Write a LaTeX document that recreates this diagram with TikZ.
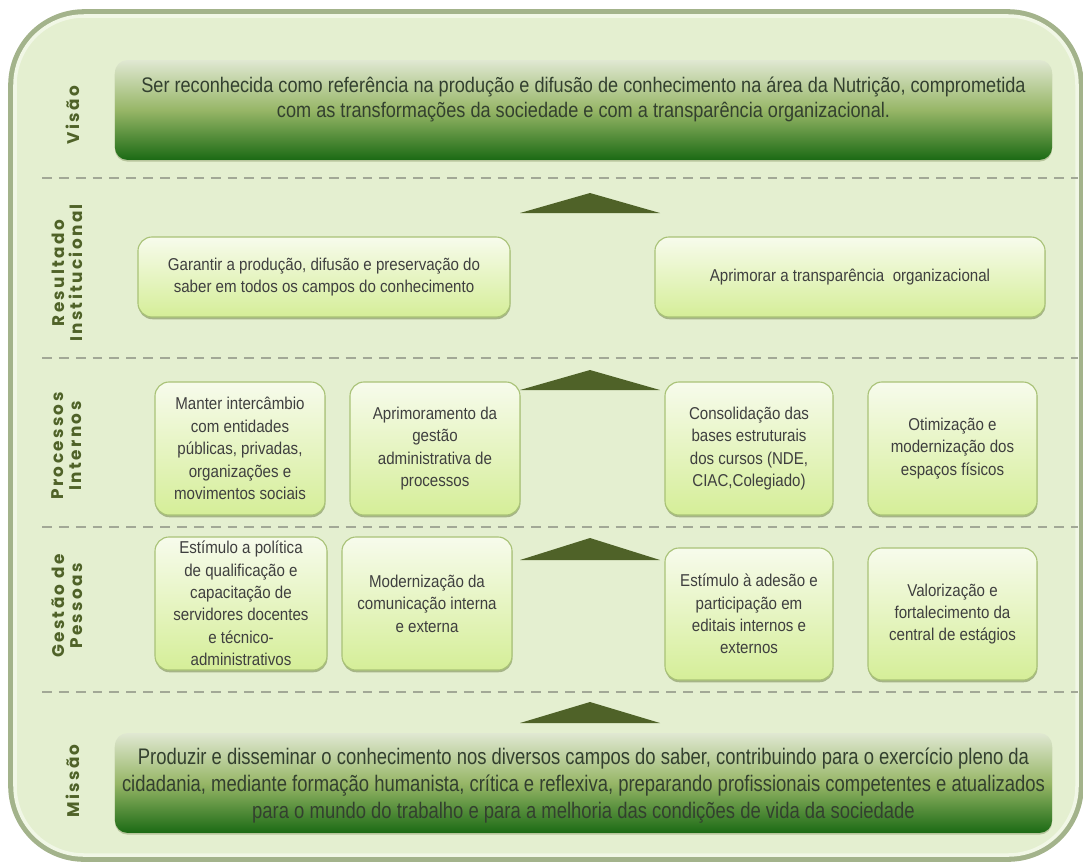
\documentclass[tikz,border=0pt]{standalone}
\usepackage{fontspec}
\setmainfont{Liberation Sans}
\newfontfamily\narrowfont[FakeStretch=0.88]{Liberation Sans}
\newfontfamily\bignarrow[FakeStretch=0.86]{Liberation Sans}
\newfontfamily\missfont[FakeStretch=0.82]{Liberation Sans}
\newfontfamily\labelfont[LetterSpace=14]{Poppins}
\usetikzlibrary{positioning,shadows}

\definecolor{framefill}{HTML}{E4EFD0}
\definecolor{frameedge}{HTML}{A3B38B}
\definecolor{framelight}{HTML}{F1F7E6}
\definecolor{boxtop}{HTML}{F7FBEC}
\definecolor{boxbot}{HTML}{D5EE98}
\definecolor{boxline}{HTML}{A9C277}
\definecolor{boxshadow}{HTML}{8C9C6A}
\definecolor{bigtop}{HTML}{E0E8D2}
\definecolor{bigmid}{HTML}{97B667}
\definecolor{bigbot}{HTML}{1B6A14}
\definecolor{olive}{HTML}{4F6228}
\definecolor{sepgray}{HTML}{A2A896}
\definecolor{txtgray}{HTML}{3F3F3F}
\definecolor{bigtxt}{HTML}{33402F}

\begin{document}
\begin{tikzpicture}[x=0.025cm, y=0.025cm,
  goalbox/.style={draw=boxline, line width=0.8pt, rounded corners=10pt,
    top color=boxtop, bottom color=boxbot, align=center, text=txtgray,
    font=\narrowfont\fontsize{12.2}{15.9}\selectfont,
    drop shadow={shadow xshift=0.3pt, shadow yshift=-1.6pt, fill=boxshadow, opacity=0.7}},
  bigbox/.style={rounded corners=9pt, top color=bigtop, bottom color=bigbot,
    middle color=bigmid, minimum width=666.5pt, minimum height=71pt,
    drop shadow={shadow xshift=0pt, shadow yshift=-1.2pt, fill=boxshadow, opacity=0.5}},
  bigtext/.style={align=center, text=bigtxt, inner sep=0pt},
  layer/.style={rotate=90, align=center, text=olive,
    font=\labelfont\bfseries\fontsize{12}{12.6}\selectfont},
  uptri/.style={fill=olive},
  sep/.style={draw=sepgray, dash pattern=on 7pt off 5pt, line width=1pt}]
\useasboundingbox (0,0) rectangle (1083,-863);

% frame
\draw[frameedge, line width=4pt, rounded corners=52pt] (11,-12) rectangle (1081,-859);
\draw[fill=framefill, draw=framelight, line width=2.5pt, rounded corners=49pt] (15,-16) rectangle (1077,-855);

% separators between the layers
\draw[sep] (42,-178) -- (1078,-178);
\draw[sep] (42,-358) -- (1078,-358);
\draw[sep] (42,-527) -- (1078,-527);
\draw[sep] (42,-692) -- (1078,-692);

% upward triangles
\fill[uptri] (520,-213) -- (590,-193) -- (660,-213) -- cycle;
\fill[uptri] (520,-390) -- (590,-370) -- (660,-390) -- cycle;
\fill[uptri] (520,-560) -- (590,-538) -- (660,-560) -- cycle;
\fill[uptri] (520,-723) -- (590,-702) -- (660,-723) -- cycle;

% vision
\node[bigbox] (vis) at (583.5,-110) {};
\node[bigtext, below=12pt of vis.north, font=\bignarrow\fontsize{15}{17.8}\selectfont] (vistxt)
  {Ser reconhecida como referência na produção e difusão de conhecimento na área da Nutrição, comprometida\\
   com as transformações da sociedade e com a transparência organizacional.};

% institutional results
\node[goalbox, minimum width=264.6pt, minimum height=56.9pt] (res1) at (324,-277)
  {Garantir a produção, difusão e preservação do\\ saber em todos os campos do conhecimento};
\node[goalbox, minimum width=277.4pt, minimum height=56.9pt] (res2) at (850,-277)
  {Aprimorar a transparência \ organizacional};

% internal processes
\node[goalbox, minimum width=120.9pt, minimum height=94.6pt] (proc1) at (240,-448.5)
  {Manter intercâmbio\\ com entidades\\ públicas, privadas,\\ organizações e\\ movimentos sociais};
\node[goalbox, minimum width=120.9pt, minimum height=94.6pt] (proc2) at (435,-448.5)
  {Aprimoramento da\\ gestão\\ administrativa de\\ processos};
\node[goalbox, minimum width=119.5pt, minimum height=94.6pt] (proc3) at (749,-448.5)
  {Consolidação das\\ bases estruturais\\ dos cursos (NDE,\\ CIAC,Colegiado)};
\node[goalbox, minimum width=120.2pt, minimum height=94.6pt] (proc4) at (952.5,-448.5)
  {Otimização e\\ modernização dos\\ espaços físicos};

% people management
\node[goalbox, minimum width=122.3pt, minimum height=94.6pt, inner sep=1pt] (gest1) at (241,-603.5)
  {Estímulo a política\\ de qualificação e\\ capacitação de\\ servidores docentes\\ e técnico-\\ administrativos};
\node[goalbox, minimum width=120.9pt, minimum height=94.6pt] (gest2) at (427,-603.5)
  {Modernização da\\ comunicação interna\\ e externa};
\node[goalbox, minimum width=119.5pt, minimum height=93.9pt] (gest3) at (749,-614)
  {Estímulo à adesão e\\ participação em\\ editais internos e\\ externos};
\node[goalbox, minimum width=120.2pt, minimum height=93.9pt] (gest4) at (952.5,-614)
  {Valorização e\\ fortalecimento da\\ central de estágios};

% mission
\node[bigbox] (mis) at (583.5,-783) {};
\node[bigtext, font=\missfont\fontsize{16}{19.2}\selectfont] (mistxt) at ([yshift=-2pt]mis.center)
  {Produzir e disseminar o conhecimento nos diversos campos do saber, contribuindo para o exercício pleno da\\
   cidadania, mediante formação humanista, crítica e reflexiva, preparando profissionais competentes e atualizados\\
   para o mundo do trabalho e para a melhoria das condições de vida da sociedade};

% layer names
\node[layer] (lvis) at (73,-115) {Visão};
\node[layer] (lres) at (67,-273) {Resultado\\ Institucional};
\node[layer] (lproc) at (67,-446) {Processos\\ Internos};
\node[layer] (lgest) at (67,-606) {Gestão de\\ Pessoas};
\node[layer] (lmis) at (73,-781) {Missão};
\end{tikzpicture}
\end{document}
